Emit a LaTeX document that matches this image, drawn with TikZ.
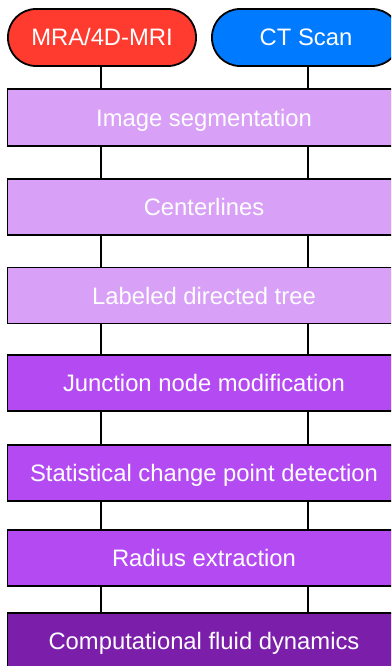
\documentclass[tikz,border=0pt]{standalone}
\usepackage{fontspec}
\setmainfont{Liberation Sans}
\definecolor{cred}{HTML}{FF3B30}
\definecolor{cblue}{HTML}{007AFF}
\definecolor{plight}{HTML}{D8A0F6}
\definecolor{pmid}{HTML}{B44BF2}
\definecolor{pdark}{HTML}{7B1FAB}
\begin{document}
\begin{tikzpicture}[x=1pt,y=-1pt,
  every node/.style={text=white,font=\fontsize{23.8}{28}\selectfont,inner sep=0pt,text height=17pt,text depth=0pt},
  pill/.style={draw=black,line width=1.8pt,rounded corners=28pt,minimum width=188pt,minimum height=57pt},
  stepbox/.style={draw=black,line width=1.8pt,rectangle,minimum width=393pt,minimum height=56pt},
  conn/.style={draw=black,line width=1.5pt}]
\useasboundingbox (0,0) rectangle (391,666);
\clip (0,0) rectangle (391,666);
\fill[white] (0,0) rectangle (391,666);
\coordinate (L) at (101,0);
\coordinate (R) at (308,0);
\node[pill,fill=cred] (mra) at (102,37.5) {MRA/4D-MRI};
\node[pill,fill=cblue] (ct) at (306,37.5) {CT Scan};
\node[stepbox,fill=plight,minimum height=57pt] (seg) at (204,117.5) {Image segmentation};
\node[stepbox,fill=plight] (cen) at (204,207) {Centerlines};
\node[stepbox,fill=plight] (tree) at (204,295.5) {Labeled directed tree};
\node[stepbox,fill=pmid] (junc) at (204,383) {Junction node modification};
\node[stepbox,fill=pmid] (stat) at (204,473) {Statistical change point detection};
\node[stepbox,fill=pmid] (rad) at (204,558) {Radius extraction};
\node[stepbox,fill=pdark] (cfd) at (204,641) {Computational fluid dynamics};
\draw[conn] (mra.south -| L) -- (seg.north -| L);
\draw[conn] (ct.south -| R) -- (seg.north -| R);
\foreach \a/\b in {seg/cen,cen/tree,tree/junc,junc/stat,stat/rad,rad/cfd}{
  \draw[conn] (\a.south -| L) -- (\b.north -| L);
  \draw[conn] (\a.south -| R) -- (\b.north -| R);
}
\end{tikzpicture}
\end{document}
